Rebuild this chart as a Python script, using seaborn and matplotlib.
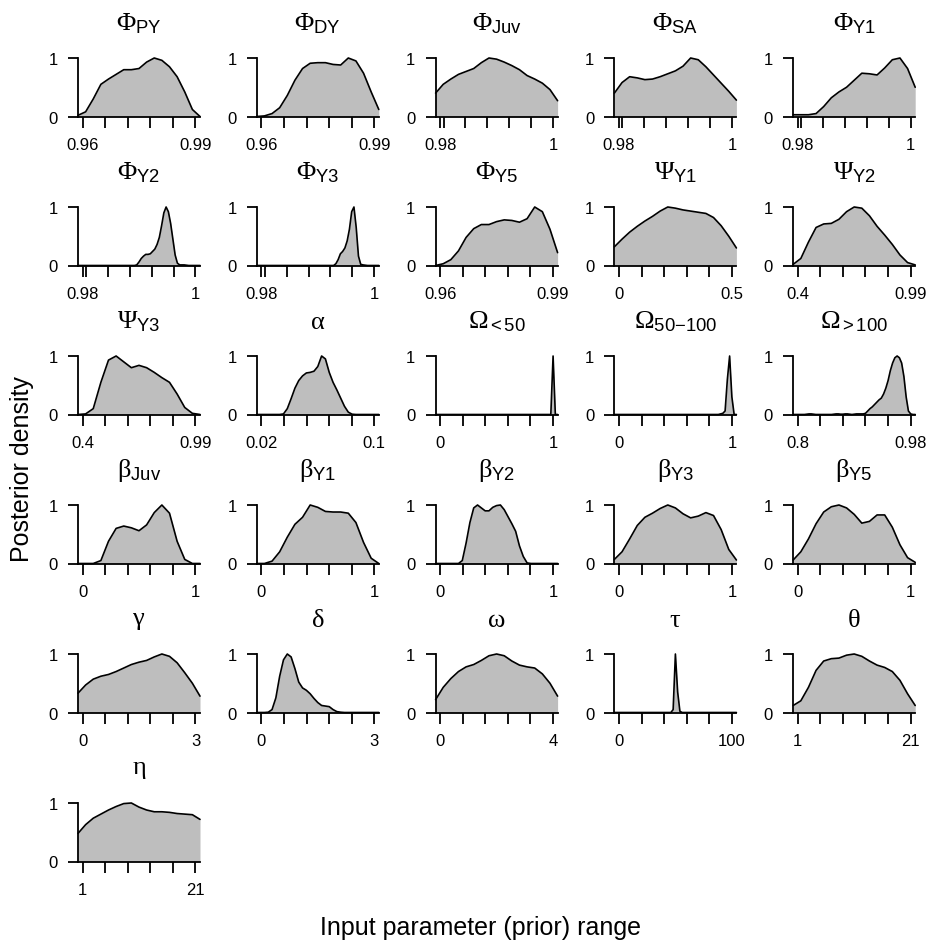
import numpy as np
import matplotlib
matplotlib.use("Agg")
import matplotlib.pyplot as plt
import seaborn as sns

# Posterior densities (scaled so each peak = 1), evaluated on an even grid
# spanning each panel's plotting window (prior range plus 4 % either side).
phi_py = [0.02, 0.08, 0.30, 0.55, 0.64, 0.72, 0.80, 0.80, 0.82, 0.93, 1.00, 0.96, 0.85, 0.68, 0.42, 0.12, 0.00]
phi_dy = [0.00, 0.01, 0.05, 0.15, 0.36, 0.62, 0.82, 0.91, 0.92, 0.92, 0.89, 0.88, 1.00, 0.95, 0.74, 0.42, 0.12]
phi_juv = [0.40, 0.55, 0.64, 0.72, 0.77, 0.82, 0.92, 1.00, 0.98, 0.93, 0.87, 0.80, 0.70, 0.64, 0.57, 0.46, 0.27]
phi_sa = [0.40, 0.58, 0.68, 0.66, 0.63, 0.64, 0.68, 0.73, 0.78, 0.86, 1.00, 0.97, 0.85, 0.71, 0.57, 0.43, 0.28]
phi_y1 = [0.03, 0.03, 0.03, 0.05, 0.17, 0.32, 0.42, 0.50, 0.62, 0.74, 0.73, 0.71, 0.83, 0.97, 1.00, 0.82, 0.50]
phi_y2 = [0, 0, 0, 0, 0, 0, 0, 0, 0, 0, 0, 0, 0, 0, 0, 0, 0, 0, 0, 0, 0, 0, 0, 0, 0, 0,
          0.01, 0.06, 0.12, 0.16, 0.19, 0.19, 0.20, 0.24, 0.28, 0.36, 0.48, 0.68, 0.90, 1.00,
          0.92, 0.72, 0.45, 0.18, 0.04, 0.01, 0.01, 0.01, 0.005, 0, 0, 0, 0, 0, 0]
phi_y3 = [0, 0, 0, 0, 0, 0, 0, 0, 0, 0, 0, 0, 0, 0, 0, 0, 0, 0, 0, 0, 0, 0, 0, 0, 0, 0, 0, 0,
          0, 0, 0, 0, 0, 0, 0, 0.03, 0.10, 0.20, 0.24, 0.30, 0.42, 0.62, 0.92, 1.00, 0.65,
          0.16, 0.02, 0.01, 0.005, 0, 0, 0, 0, 0, 0]
phi_y5 = [0.00, 0.03, 0.10, 0.25, 0.48, 0.63, 0.70, 0.70, 0.75, 0.78, 0.77, 0.74, 0.80, 1.00, 0.92, 0.62, 0.22]
psi_y1 = [0.32, 0.45, 0.57, 0.67, 0.76, 0.84, 0.93, 1.00, 0.98, 0.95, 0.93, 0.91, 0.89, 0.82, 0.68, 0.50, 0.30]
psi_y2 = [0.02, 0.12, 0.40, 0.65, 0.71, 0.72, 0.79, 0.92, 1.00, 0.98, 0.85, 0.67, 0.52, 0.36, 0.18, 0.05, 0.01]
psi_y3 = [0.00, 0.01, 0.10, 0.55, 0.93, 1.00, 0.90, 0.80, 0.84, 0.80, 0.72, 0.63, 0.55, 0.35, 0.12, 0.02, 0.00]
alpha = [0, 0, 0, 0, 0, 0, 0, 0.01, 0.10, 0.27, 0.45, 0.58, 0.66, 0.71, 0.72, 0.74, 0.82,
         1.00, 0.95, 0.72, 0.55, 0.42, 0.28, 0.14, 0.04, 0.005, 0, 0, 0, 0, 0, 0, 0]
omega_lt50 = [0, 0, 0, 0, 0, 0, 0, 0, 0, 0, 0, 0, 0, 0, 0, 0, 0, 0, 0, 0, 0, 0, 0, 0, 0, 0, 0,
              0, 0, 0, 0, 0, 0, 0, 0, 0, 0, 0, 0, 0, 0, 0, 0, 0, 0, 0, 0, 0, 0, 0, 0, 0,
              1.00, 0, 0]
omega_50_100 = [0, 0, 0, 0, 0, 0, 0, 0, 0, 0, 0, 0, 0, 0, 0, 0, 0, 0, 0, 0, 0, 0, 0, 0, 0, 0, 0,
                0, 0, 0, 0, 0, 0, 0, 0, 0, 0, 0, 0, 0, 0, 0, 0, 0, 0, 0, 0, 0.01, 0.02, 0.06,
                0.60, 1.00, 0.30, 0, 0]
omega_gt100 = [0, 0, 0, 0, 0, 0, 0.005, 0.01, 0.01, 0.005, 0, 0, 0, 0, 0, 0, 0, 0, 0.005, 0.01,
               0.01, 0.005, 0.005, 0.01, 0.01, 0.005, 0, 0.005, 0.01, 0.01, 0.01, 0.01, 0.02,
               0.06, 0.10, 0.13, 0.17, 0.21, 0.25, 0.28, 0.35, 0.45, 0.58, 0.75, 0.88, 0.97,
               1.00, 0.97, 0.88, 0.65, 0.30, 0.06, 0.01, 0, 0]
beta_juv = [0, 0, 0, 0.05, 0.38, 0.60, 0.64, 0.61, 0.56, 0.66, 0.87, 1.00, 0.86, 0.38, 0.07, 0, 0]
beta_y1 = [0, 0, 0.04, 0.20, 0.45, 0.67, 0.79, 1.00, 0.96, 0.89, 0.88, 0.88, 0.86, 0.70, 0.36, 0.09, 0]
beta_y2 = [0, 0, 0, 0, 0, 0, 0, 0.05, 0.35, 0.70, 0.95, 1.00, 0.95, 0.90, 0.90, 0.96, 0.99,
           1.00, 0.92, 0.80, 0.68, 0.55, 0.30, 0.12, 0.01, 0, 0, 0, 0, 0, 0, 0, 0]
beta_y3 = [0.07, 0.20, 0.42, 0.65, 0.79, 0.86, 0.94, 1.00, 0.95, 0.85, 0.78, 0.81, 0.87, 0.82, 0.58, 0.24, 0.06]
beta_y5 = [0.06, 0.20, 0.42, 0.68, 0.88, 0.97, 1.00, 0.95, 0.84, 0.69, 0.72, 0.83, 0.83, 0.62, 0.32, 0.10, 0.02]
gamma = [0.33, 0.47, 0.57, 0.62, 0.65, 0.70, 0.76, 0.82, 0.86, 0.89, 0.95, 1.00, 0.96, 0.85, 0.68, 0.50, 0.28]
delta = [0, 0, 0, 0.005, 0.05, 0.25, 0.62, 0.90, 1.00, 0.95, 0.75, 0.52, 0.42, 0.38, 0.32, 0.24,
         0.17, 0.12, 0.11, 0.10, 0.05, 0.015, 0.005, 0, 0, 0, 0, 0, 0, 0, 0, 0, 0]
omega = [0.22, 0.43, 0.58, 0.70, 0.78, 0.82, 0.89, 0.97, 1.00, 0.97, 0.88, 0.81, 0.78, 0.76, 0.66, 0.50, 0.28]
tau = [0, 0, 0, 0, 0, 0, 0, 0, 0, 0, 0, 0, 0, 0, 0, 0, 0, 0, 0, 0, 0, 0, 0, 0, 0, 0,
       0.05, 1.00, 0.35, 0.02, 0, 0, 0, 0, 0, 0, 0, 0, 0, 0, 0, 0, 0, 0, 0, 0, 0, 0, 0,
       0, 0, 0, 0, 0, 0]
theta = [0.12, 0.20, 0.43, 0.72, 0.88, 0.92, 0.93, 0.98, 1.00, 0.96, 0.88, 0.81, 0.77, 0.70, 0.55, 0.32, 0.12]
eta = [0.48, 0.63, 0.74, 0.81, 0.88, 0.94, 0.99, 1.00, 0.93, 0.88, 0.85, 0.85, 0.84, 0.82, 0.81, 0.80, 0.72]

titles = [r"$\Phi_{\mathsf{PY}}$", r"$\Phi_{\mathsf{DY}}$", r"$\Phi_{\mathsf{Juv}}$",
          r"$\Phi_{\mathsf{SA}}$", r"$\Phi_{\mathsf{Y1}}$", r"$\Phi_{\mathsf{Y2}}$",
          r"$\Phi_{\mathsf{Y3}}$", r"$\Phi_{\mathsf{Y5}}$", r"$\Psi_{\mathsf{Y1}}$",
          r"$\Psi_{\mathsf{Y2}}$", r"$\Psi_{\mathsf{Y3}}$", r"$\mathrm{\alpha}$",
          r"$\Omega_{\mathsf{{<}50}}$", r"$\Omega_{\mathsf{50{-}100}}$", r"$\Omega_{\mathsf{{>}100}}$",
          r"$\mathrm{\beta}_{\mathsf{Juv}}$", r"$\mathrm{\beta}_{\mathsf{Y1}}$",
          r"$\mathrm{\beta}_{\mathsf{Y2}}$", r"$\mathrm{\beta}_{\mathsf{Y3}}$",
          r"$\mathrm{\beta}_{\mathsf{Y5}}$", r"$\mathrm{\gamma}$",
          r"$\mathrm{\delta}$", r"$\mathrm{\omega}$", r"$\mathrm{\tau}$",
          r"$\mathrm{\theta}$", r"$\mathrm{\eta}$"]

densities = [phi_py, phi_dy, phi_juv, phi_sa, phi_y1, phi_y2, phi_y3, phi_y5,
             psi_y1, psi_y2, psi_y3, alpha, omega_lt50, omega_50_100, omega_gt100,
             beta_juv, beta_y1, beta_y2, beta_y3, beta_y5, gamma, delta, omega, tau,
             theta, eta]

prior_lo = [0.96, 0.96, 0.98, 0.98, 0.98, 0.98, 0.98, 0.96, 0.0, 0.4, 0.4, 0.02, 0, 0, 0.8,
            0, 0, 0, 0, 0, 0, 0, 0, 0, 1, 1]
prior_hi = [0.99, 0.99, 1.0, 1.0, 1.0, 1.0, 1.0, 0.99, 0.5, 0.99, 0.99, 0.1, 1, 1, 0.98,
            1, 1, 1, 1, 1, 3, 3, 4, 100, 21, 21]
label_lo = ["0.96", "0.96", "0.98", "0.98", "0.98", "0.98", "0.98", "0.96", "0", "0.4", "0.4",
            "0.02", "0", "0", "0.8", "0", "0", "0", "0", "0", "0", "0", "0", "0", "1", "1"]
label_hi = ["0.99", "0.99", "1", "1", "1", "1", "1", "0.99", "0.5", "0.99", "0.99", "0.1",
            "1", "1", "0.98", "1", "1", "1", "1", "1", "3", "3", "4", "100", "21", "21"]
# panels whose regular tick run starts just right of the labelled lower bound
shifted_ticks = {2, 3, 4, 5, 6}

FILL = "#bebebe"
W, H = 928, 945

sns.set_style("ticks")
plt.rcParams.update({
    "font.family": ["Liberation Sans", "DejaVu Sans"],
    "mathtext.fontset": "custom",
    "mathtext.rm": "Liberation Serif",
    "mathtext.it": "Liberation Serif:italic",
    "mathtext.sf": "Liberation Sans",
    "axes.linewidth": 1.3,
    "xtick.major.width": 1.3,
    "ytick.major.width": 1.3,
    "xtick.color": "black",
    "ytick.color": "black",
    "xtick.labelcolor": "black",
    "ytick.labelcolor": "black",
    "text.color": "black",
    "axes.edgecolor": "black",
})

fig = plt.figure(figsize=(W / 100, H / 100), dpi=100)

col_left0, col_step, ax_w = 78, 178.8, 122
row_top0, row_step, ax_h = 59, 149.0, 58.5

for i, dens in enumerate(densities):
    r, c = divmod(i, 5)
    left = (col_left0 + col_step * c) / W
    bottom = 1 - (row_top0 + row_step * r + ax_h) / H
    ax = fig.add_axes([left, bottom, ax_w / W, ax_h / H])

    lo, hi = prior_lo[i], prior_hi[i]
    pad = 0.04 * (hi - lo)
    x = np.linspace(lo - pad, hi + pad, len(dens))
    y = np.asarray(dens, dtype=float)

    ax.fill_between(x, y, 0, color=FILL, lw=0)
    sns.lineplot(x=x, y=y, ax=ax, color="black", lw=1.2, clip_on=False)

    ax.set_xlim(lo - pad, hi + pad)
    ax.set_ylim(0, 1)
    ax.set_xlabel("")
    ax.set_ylabel("")

    ticks = list(np.linspace(lo, hi, 6))
    if i in shifted_ticks:
        ticks = [lo] + list(np.linspace(lo + 0.03 * (hi - lo), hi, 6))
    labels = [""] * len(ticks)
    labels[0], labels[-1] = label_lo[i], label_hi[i]
    ax.set_xticks(ticks)
    ax.set_xticklabels(labels)
    ax.set_yticks([0, 1])
    ax.set_yticklabels(["0", "1"])

    for side in ("top", "right"):
        ax.spines[side].set_visible(False)
    ax.tick_params(axis="x", direction="out", length=8, pad=7, labelsize=12)
    ax.tick_params(axis="y", direction="out", length=7, pad=7.5, labelsize=12)

    ax.text(0.5, 1 + 35 / ax_h, titles[i], transform=ax.transAxes,
            ha="center", va="center", fontsize=19)

fig.text(22 / W, 1 - 469 / H, "Posterior density", rotation=90,
         ha="center", va="center", fontsize=18)
fig.text(481 / W, 1 - 928 / H, "Input parameter (prior) range",
         ha="center", va="center", fontsize=18)

fig.savefig("out.png", dpi=100, facecolor="white")
